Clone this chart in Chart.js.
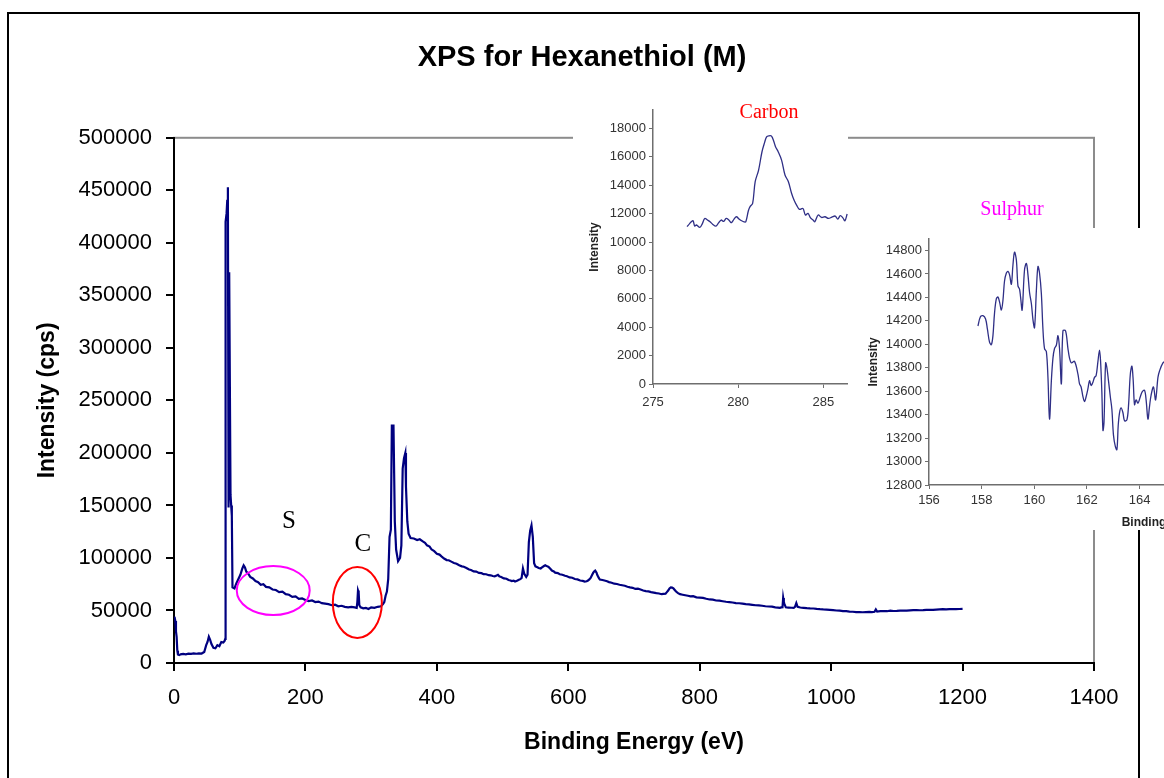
<!DOCTYPE html>
<html>
<head>
<meta charset="utf-8">
<title>XPS for Hexanethiol (M)</title>
<script src="https://cdn.jsdelivr.net/npm/chart.js@4.4.0/dist/chart.umd.min.js"></script>
<style>
  html, body { margin: 0; padding: 0; background: #fff; }
  body { position: relative; width: 1164px; height: 778px; overflow: hidden; }
  canvas { position: absolute; display: block; }
  #mainChart { left: 0; top: 0; }
  #frame { position: absolute; left: 7px; top: 12px; width: 1129px; height: 820px; border: 2px solid #000; }
  #carbonChart { left: 573px; top: 95px; background: #fff; }
  #sulphurChart { left: 852px; top: 228px; background: #fff; }
  .inset-label { position: absolute; transform: translate(-50%, -50%); white-space: nowrap;
                 font-family: "Liberation Serif", "Times New Roman", serif; font-size: 20px; }
</style>
</head>
<body>
<canvas id="mainChart" width="1164" height="778"></canvas>
<div id="frame"></div>
<canvas id="carbonChart" width="275" height="317"></canvas>
<canvas id="sulphurChart" width="640" height="302"></canvas>
<div class="inset-label" style="left:769px; top:111px; color:#ff0000;">Carbon</div>
<div class="inset-label" style="left:1012px; top:208px; color:#ff00ff;">Sulphur</div>

<script>
const SANS = '"Liberation Sans", Arial, sans-serif';
const SERIF = '"Liberation Serif", "Times New Roman", serif';

// survey scan, binding energy (eV) vs counts
const surveyEnergy = [
  0, 1, 2, 3, 4, 5, 6, 8, 10, 14, 18, 22, 26, 30, 34, 38, 42, 46, 49, 51,
  53, 55, 57, 60, 63, 66, 69, 72, 75, 77, 78, 78.5, 80, 81, 82, 83, 84, 85, 86, 87,
  88, 89, 92, 95, 98, 101, 104, 106, 108, 110, 113, 116, 120, 124, 128, 132, 136, 140, 145, 150,
  155, 160, 165, 170, 175, 180, 185, 190, 195, 200, 205, 210, 215, 220, 225, 230, 235, 240, 245, 250,
  255, 260, 265, 270, 275, 278, 279, 280, 281, 282, 284, 288, 292, 296, 300, 305, 310, 315, 318, 320,
  322, 324, 326, 328, 330, 331.5, 334, 336, 338, 341, 344, 346, 348, 350, 352, 353, 355, 357, 360, 365,
  370, 374, 378, 382, 385, 389, 392, 396, 400, 404, 407, 411, 415, 418, 422, 426, 430, 434, 438, 441,
  445, 449, 452, 456, 460, 464, 468, 471, 475, 479, 482, 485, 488, 491, 493, 495, 497, 500, 502, 506,
  509, 512, 514, 517, 519, 522, 524, 527, 529, 531, 533, 536, 538, 540, 542, 544, 546, 548, 550, 553,
  555, 558, 560, 563, 565, 568, 570, 573, 575, 578, 580, 584, 587, 591, 595, 598, 602, 606, 610, 614,
  618, 622, 625, 628, 630, 632, 634, 636, 638, 640, 641, 643, 644, 646, 648, 652, 655, 659, 662, 666,
  670, 674, 678, 682, 686, 690, 694, 698, 702, 706, 710, 714, 718, 722, 726, 730, 734, 738, 742, 745,
  748, 750, 752, 754, 756, 758, 760, 762, 764, 767, 770, 774, 778, 782, 786, 790, 795, 800, 805, 810,
  815, 820, 825, 830, 835, 840, 845, 850, 855, 860, 865, 870, 875, 880, 885, 890, 895, 900, 905, 910,
  915, 919, 922, 924, 926, 927, 928, 929, 931, 935, 940, 943, 945, 947, 949, 953, 958, 963, 968, 973,
  978, 983, 988, 993, 998, 1003, 1008, 1013, 1018, 1023, 1028, 1033, 1038, 1043, 1048, 1053, 1058, 1062, 1066, 1068,
  1070, 1075, 1080, 1085, 1090, 1095, 1100, 1105, 1110, 1115, 1120, 1125, 1130, 1135, 1140, 1145, 1150, 1155, 1160, 1165,
  1170, 1175, 1180, 1185, 1190, 1195, 1200
];
const surveyCps = [
  44000, 43000, 40000, 30000, 25000, 12000, 8000, 7500, 8200, 8600, 8300, 8900, 8700, 9100, 8800, 9200, 9000, 10500, 17000, 20000,
  25000, 22000, 18000, 14500, 14000, 17000, 16000, 20000, 19500, 21000, 23000, 420000, 428000, 440000, 453000, 148000, 372000, 372000, 160000, 150000,
  140000, 72000, 71000, 76000, 80000, 84000, 90000, 93000, 91000, 87000, 85000, 82000, 80500, 78000, 77000, 74500, 75000, 72500, 72000, 70000,
  69500, 67500, 68000, 65500, 65000, 63000, 63500, 61000, 61500, 60000, 59000, 59500, 58000, 58500, 57000, 56500, 56000, 55000, 55500, 54000,
  54500, 53500, 53000, 53500, 53000, 52500, 58000, 69000, 67000, 55000, 53000, 52000, 52500, 51500, 53000, 52500, 53500, 54000, 56000, 58000,
  64000, 68000, 80000, 120000, 127000, 226000, 226000, 135000, 108000, 97000, 100000, 112000, 185000, 195000, 200000, 168000, 135000, 123000, 119000, 118500,
  117000, 117800, 116000, 114500, 112000, 110800, 108000, 106500, 104000, 103200, 101500, 99500, 98000, 97800, 96500, 95200, 94500, 93000, 92000, 91600,
  90500, 89000, 88500, 87200, 87000, 85800, 85500, 84600, 84500, 83600, 83500, 82800, 82500, 83300, 84000, 82600, 82000, 81200, 80500, 80200,
  79000, 78600, 78000, 78400, 77500, 78200, 79000, 79800, 81000, 90000, 85000, 82000, 84000, 115000, 126000, 131000, 120000, 95000, 92000, 91200,
  90500, 90000, 91000, 92300, 93000, 92000, 91500, 89500, 88000, 87200, 86000, 85600, 84500, 84000, 83000, 82600, 81500, 81200, 80000, 79600,
  78500, 78200, 77500, 77800, 78500, 79600, 81000, 83500, 86000, 87500, 88000, 86000, 84000, 81500, 79500, 79000, 78500, 77800, 77000, 76400,
  75500, 75200, 74500, 74000, 73500, 72600, 72000, 71600, 70500, 70700, 70000, 69000, 68500, 68200, 67500, 67000, 66500, 66200, 65500, 65800,
  66000, 67500, 69000, 71000, 72000, 71800, 71000, 69500, 68000, 66500, 65500, 65000, 64500, 64000, 63500, 63600, 62500, 62300, 62000, 61200,
  60500, 60300, 59500, 59300, 58800, 58300, 58000, 57600, 57000, 56900, 56500, 56000, 55800, 55400, 55000, 54900, 54500, 54000, 53800, 53600,
  53000, 52800, 52500, 52900, 53000, 62000, 58000, 56000, 53000, 52800, 52600, 52400, 53500, 57000, 53500, 52800, 52500, 52200, 52000, 51900,
  51500, 51200, 51000, 50900, 50600, 50300, 50000, 49800, 49400, 49300, 49000, 48800, 48500, 48400, 48300, 48500, 48600, 48400, 48800, 51000,
  49000, 49300, 49500, 49300, 49800, 49500, 49600, 49900, 50000, 49800, 50100, 50300, 50400, 50200, 50300, 50600, 50700, 50600, 50900, 51100,
  51200, 51000, 51300, 51400, 51200, 51400, 51500
];
const surveyTicksX = [0, 200, 400, 600, 800, 1000, 1200, 1400];
const surveyTicksY = [0, 50000, 100000, 150000, 200000, 250000, 300000, 350000, 400000, 450000, 500000];

// C 1s region
const carbonEnergy = [
  277.0, 277.15, 277.25, 277.35, 277.45, 277.55, 277.75, 277.9, 278.04, 278.2, 278.35, 278.5, 278.7, 278.85, 279.0, 279.15,
  279.3, 279.45, 279.6, 279.75, 279.9, 280.05, 280.2, 280.35, 280.45, 280.6, 280.7, 280.85, 281.0, 281.2, 281.4, 281.55,
  281.67, 281.8, 281.96, 282.1, 282.2, 282.35, 282.55, 282.75, 282.95, 283.14, 283.3, 283.43, 283.6, 283.8, 283.95, 284.1,
  284.25, 284.4, 284.5, 284.7, 284.9, 285.1, 285.3, 285.5, 285.7, 285.85, 286.0, 286.15, 286.27, 286.4
];
const carbonCounts = [
  11080, 11300, 11430, 11500, 11120, 11200, 11030, 11300, 11660, 11550, 11430, 11250, 11120, 11350, 11550, 11450,
  11660, 11550, 11360, 11600, 11780, 11620, 11500, 11420, 11430, 12200, 12490, 12720, 14250, 15070, 16360, 17000,
  17410, 17480, 17460, 17060, 16700, 16360, 15770, 14720, 14250, 13420, 12900, 12600, 12300, 12370, 11900, 12020,
  11700, 11550, 11430, 11900, 11730, 11780, 11660, 11750, 11830, 11620, 11860, 11700, 11500, 11970
];
const carbonTicksX = [275, 280, 285];
const carbonTicksY = [0, 2000, 4000, 6000, 8000, 10000, 12000, 14000, 16000, 18000];

// S 2p region
const sulphurEnergy = [
  157.86, 157.95, 158.05, 158.15, 158.22, 158.30, 158.37, 158.43, 158.49, 158.56, 158.62, 158.68, 158.75, 158.81, 158.87, 158.94,
  159.00, 159.06, 159.13, 159.19, 159.25, 159.32, 159.38, 159.44, 159.48, 159.54, 159.63, 159.70, 159.76, 159.82, 159.89, 159.95,
  160.01, 160.08, 160.14, 160.20, 160.27, 160.33, 160.39, 160.46, 160.52, 160.58, 160.65, 160.71, 160.77, 160.84, 160.90, 160.96,
  161.03, 161.09, 161.19, 161.28, 161.34, 161.41, 161.53, 161.66, 161.72, 161.78, 161.85, 161.91, 161.97, 162.04, 162.10, 162.16,
  162.23, 162.29, 162.35, 162.42, 162.48, 162.52, 162.57, 162.61, 162.65, 162.71, 162.76, 162.82, 162.89, 162.95, 163.01, 163.08,
  163.14, 163.19, 163.24, 163.30, 163.37, 163.43, 163.52, 163.58, 163.65, 163.71, 163.76, 163.81, 163.87, 163.94, 164.03, 164.10,
  164.19, 164.25, 164.32, 164.38, 164.44, 164.53, 164.61, 164.70, 164.76, 164.89, 165.0, 165.1
];
const sulphurCounts = [
  14156, 14233, 14244, 14216, 14129, 14019, 13997, 14074, 14266, 14389, 14403, 14362, 14293, 14375, 14540, 14608,
  14622, 14595, 14512, 14677, 14786, 14718, 14499, 14471, 14403, 14293, 14636, 14690, 14595, 14444, 14348, 14211,
  14142, 14458, 14663, 14608, 14430, 14129, 13964, 13937, 13718, 13362, 13690, 13882, 13964, 13992, 14074, 13964,
  13663, 14115, 14115, 13964, 13882, 13841, 13855, 13745, 13663, 13636, 13553, 13512, 13553, 13622, 13690, 13649,
  13677, 13718, 13732, 13855, 13951, 13855, 13581, 13266, 13334, 13841, 13800, 13690, 13553, 13444, 13225, 13129,
  13101, 13307, 13416, 13458, 13416, 13348, 13356, 13471, 13745, 13814, 13690, 13485, 13526, 13498, 13553, 13595,
  13608, 13526, 13362, 13471, 13567, 13636, 13526, 13718, 13773, 13841, 13860, 13880
];
const sulphurTicksX = [156, 158, 160, 162, 164, 166, 168, 170, 172, 174];
const sulphurTicksY = [12800, 13000, 13200, 13400, 13600, 13800, 14000, 14200, 14400, 14600, 14800];

const toPoints = (xs, ys) => xs.map((x, i) => ({ x: x, y: ys[i] }));
const plainNumber = v => String(v);
const fixedTicks = values => scale => { scale.ticks = values.map(v => ({ value: v })); };

// gray plot-area box behind the axes
const plotFrame = {
  id: 'plotFrame',
  beforeDraw(chart) {
    const a = chart.chartArea, ctx = chart.ctx;
    ctx.save();
    ctx.strokeStyle = '#8c8c8c';
    ctx.lineWidth = 2;
    ctx.strokeRect(a.left, a.top, a.right - a.left, a.bottom - a.top);
    ctx.restore();
  }
};

// circled regions on the survey, placed in data units
const regionMarks = {
  id: 'regionMarks',
  afterDatasetsDraw(chart, args, opts) {
    const ctx = chart.ctx, xs = chart.scales.x, ys = chart.scales.y;
    ctx.save();
    opts.rings.forEach(r => {
      const cx = xs.getPixelForValue(r.x), cy = ys.getPixelForValue(r.y);
      const rx = Math.abs(xs.getPixelForValue(r.x + r.dx) - cx);
      const ry = Math.abs(ys.getPixelForValue(r.y + r.dy) - cy);
      ctx.beginPath();
      ctx.ellipse(cx, cy, rx, ry, 0, 0, Math.PI * 2);
      ctx.strokeStyle = r.color;
      ctx.lineWidth = 2;
      ctx.stroke();
      ctx.fillStyle = '#000';
      ctx.font = '25px ' + SERIF;
      ctx.textAlign = 'center';
      ctx.textBaseline = 'middle';
      ctx.fillText(r.label, xs.getPixelForValue(r.labelX), ys.getPixelForValue(r.labelY));
    });
    ctx.restore();
  }
};

new Chart(document.getElementById('mainChart'), {
  type: 'line',
  data: {
    datasets: [{
      data: toPoints(surveyEnergy, surveyCps),
      borderColor: '#000080',
      borderWidth: 2.2,
      pointRadius: 0,
      tension: 0
    }]
  },
  options: {
    responsive: false,
    animation: false,
    devicePixelRatio: 1,
    layout: { padding: 0 },
    plugins: {
      legend: { display: false },
      tooltip: { enabled: false },
      title: {
        display: true,
        text: 'XPS for Hexanethiol (M)',
        color: '#000',
        font: { family: SANS, size: 29, weight: 'bold' },
        padding: { top: 41, bottom: 62 }
      },
      regionMarks: {
        rings: [
          { label: 'S', color: '#ff00ff', x: 151, y: 69000, dx: 55.5, dy: 23300, labelX: 175, labelY: 135000 },
          { label: 'C', color: '#ff0000', x: 279, y: 57600, dx: 37.3, dy: 33800, labelX: 287.5, labelY: 112400 }
        ]
      }
    },
    scales: {
      x: {
        type: 'linear',
        min: 0,
        max: 1400,
        afterFit: s => { s.height = 115; },
        afterBuildTicks: fixedTicks(surveyTicksX),
        ticks: { padding: 14, maxRotation: 0, color: '#000',
                 font: { family: SANS, size: 22 }, callback: plainNumber },
        grid: { drawOnChartArea: false, tickLength: 8, color: '#000', lineWidth: 2 },
        border: { color: '#000', width: 2 },
        title: { display: true, text: 'Binding Energy (eV)', color: '#000',
                 font: { family: SANS, size: 23, weight: 'bold' }, padding: { top: 0, bottom: 22 } }
      },
      y: {
        min: 0,
        max: 500000,
        afterFit: s => { s.width = 174; },
        afterBuildTicks: fixedTicks(surveyTicksY),
        ticks: { padding: 14, color: '#000',
                 font: { family: SANS, size: 22 }, callback: plainNumber },
        grid: { drawOnChartArea: false, tickLength: 8, color: '#000', lineWidth: 2 },
        border: { color: '#000', width: 2 },
        title: { display: true, text: 'Intensity (cps)', color: '#000',
                 font: { family: SANS, size: 23, weight: 'bold' }, padding: { top: 34, bottom: 0 } }
      },
      // empty strip on the right so the title stays centred on the page
      side: {
        position: 'right',
        afterFit: s => { s.width = 70; },
        grid: { display: false },
        border: { display: false },
        ticks: { display: false }
      }
    }
  },
  plugins: [plotFrame, regionMarks]
});

// shared look of the two small detail charts
function insetScales(xOpts, yOpts, xTitle) {
  const tickFont = { family: SANS, size: 13 };
  const grid = { drawOnChartArea: false, tickLength: 4, color: '#6e6e6e', lineWidth: 1 };
  const border = { color: '#6e6e6e', width: 1.5 };
  return {
    x: Object.assign({
      type: 'linear',
      grid: grid,
      border: border,
      title: xTitle
    }, xOpts, {
      ticks: Object.assign({ color: '#333', font: tickFont, maxRotation: 0, callback: plainNumber }, xOpts.ticks)
    }),
    y: Object.assign({
      grid: grid,
      border: border,
      title: { display: true, text: 'Intensity', color: '#222',
               font: { family: SANS, size: 12, weight: 'bold' }, padding: { top: 14, bottom: 0 } }
    }, yOpts, {
      ticks: Object.assign({ color: '#333', font: tickFont, padding: 3, callback: plainNumber }, yOpts.ticks)
    })
  };
}

function insetChart(id, points, padding, scales) {
  return new Chart(document.getElementById(id), {
    type: 'line',
    data: {
      datasets: [{
        data: points,
        borderColor: '#2f2f86',
        borderWidth: 1.3,
        pointRadius: 0,
        tension: 0.35
      }]
    },
    options: {
      responsive: false,
      animation: false,
      devicePixelRatio: 1,
      layout: { padding: padding },
      plugins: { legend: { display: false }, tooltip: { enabled: false }, title: { display: false } },
      scales: scales
    }
  });
}

insetChart('carbonChart', toPoints(carbonEnergy, carbonCounts),
  { left: 0, right: 0, top: 15, bottom: 0 },
  insetScales(
    { min: 275, max: 286.45, afterFit: s => { s.height = 28; }, afterBuildTicks: fixedTicks(carbonTicksX),
      ticks: { padding: 7 } },
    { min: 0, max: 19300, afterFit: s => { s.width = 80; }, afterBuildTicks: fixedTicks(carbonTicksY), ticks: {} },
    { display: false }
  ));

insetChart('sulphurChart', toPoints(sulphurEnergy, sulphurCounts),
  { left: 0, right: 63, top: 2, bottom: 0 },
  insetScales(
    { min: 156, max: 175, afterFit: s => { s.height = 45; }, afterBuildTicks: fixedTicks(sulphurTicksX),
      ticks: { padding: 4 } },
    { min: 12800, max: 14900, afterFit: s => { s.width = 77; }, afterBuildTicks: fixedTicks(sulphurTicksY), ticks: {} },
    { display: true, text: 'Binding Energy (eV)', color: '#222',
      font: { family: SANS, size: 12, weight: 'bold' }, padding: { top: 0, bottom: 0 } }
  ));
</script>
</body>
</html>
